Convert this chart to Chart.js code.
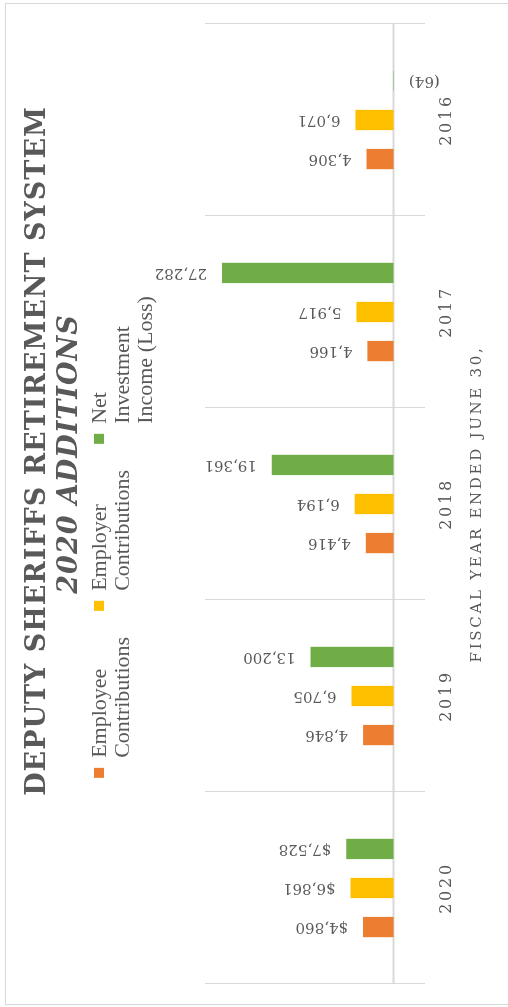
<!DOCTYPE html>
<html>
<head>
<meta charset="utf-8">
<script src="https://cdn.jsdelivr.net/npm/chart.js@4.4.1/dist/chart.umd.min.js"></script>
<style>
  html, body { margin: 0; padding: 0; background: #fff; overflow: hidden; }
  #wrap {
    position: absolute; left: 0; top: 0; width: 1007px; height: 508px;
    transform-origin: 0 0; transform: translate(0, 1007px) rotate(-90deg);
  }
</style>
</head>
<body>
<div id="wrap"><canvas id="chart" width="1007" height="508"></canvas></div>
<script>
const years = ['2020', '2019', '2018', '2017', '2016'];
const employee = [4860, 4846, 4416, 4166, 4306];
const employer = [6861, 6705, 6194, 5917, 6071];
const investment = [7528, 13200, 19361, 27282, -64];
const labelPrefix = ['$', '', '', '', ''];
const seriesNames = [
    ['Employee', 'Contributions'],
    ['Employer', 'Contributions'],
    ['Net', 'Investment', 'Income (Loss)']
];
const seriesColors = ['#ED7D31', '#FFC000', '#70AD47'];

const textGray = '#595959';

function formatValue(v, i) {
    const s = Math.abs(v).toLocaleString('en-US');
    return v < 0 ? '(' + s + ')' : labelPrefix[i] + s;
}

// extras: zero line, value labels, border, title, legend
const decor = {
    id: 'decor',
    beforeDraw(chart) {
        chart.ctx.letterSpacing = '2.7px';
    },
    beforeDatasetsDraw(chart) {
        const { ctx, chartArea } = chart;
        ctx.letterSpacing = '0px';
        const y0 = chart.scales.y.getPixelForValue(0);
        ctx.save();
        ctx.strokeStyle = '#d9d9d9';
        ctx.lineWidth = 2;
        ctx.beginPath();
        ctx.moveTo(chartArea.left, y0);
        ctx.lineTo(chartArea.right, y0);
        ctx.stroke();
        ctx.restore();
    },
    afterDatasetsDraw(chart) {
        const ctx = chart.ctx;
        ctx.save();
        ctx.font = '15px "DejaVu Serif"';
        ctx.fillStyle = textGray;
        ctx.textBaseline = 'middle';
        chart.data.datasets.forEach((ds, d) => {
            chart.getDatasetMeta(d).data.forEach((bar, i) => {
                const v = ds.data[i];
                ctx.save();
                if (v >= 0) {
                    ctx.translate(bar.x, bar.y - 15);
                    ctx.textAlign = 'left';
                } else {
                    ctx.translate(bar.x, bar.y + 15);
                    ctx.textAlign = 'right';
                }
                ctx.rotate(-Math.PI / 2);
                ctx.fillText(formatValue(v, i), 0, 0);
                ctx.restore();
            });
        });
        ctx.restore();
    },
    afterDraw(chart) {
        const ctx = chart.ctx;
        ctx.save();
        ctx.letterSpacing = '0px';

        // chart border
        ctx.strokeStyle = '#d9d9d9';
        ctx.lineWidth = 1;
        ctx.strokeRect(2.5, 5.5, 1001, 520);

        // titles
        ctx.fillStyle = textGray;
        ctx.textAlign = 'center';
        ctx.textBaseline = 'middle';
        ctx.letterSpacing = '1px';
        ctx.font = 'bold 27px "DejaVu Serif"';
        ctx.fillText('DEPUTY SHERIFFS RETIREMENT SYSTEM', 556, 38);
        ctx.font = 'italic bold 27px "DejaVu Serif"';
        ctx.fillText('2020 ADDITIONS', 553, 70);
        ctx.letterSpacing = '0px';

        // legend
        ctx.font = '22px "Liberation Serif"';
        ctx.textAlign = 'left';
        const widths = seriesNames.map(lines => Math.max(...lines.map(t => ctx.measureText(t).width)));
        const gap = 26, box = 10, boxGap = 10;
        const total = widths.reduce((a, w) => a + box + boxGap + w, 0) + gap * (widths.length - 1);
        let x = 470 - total / 2;
        seriesNames.forEach((lines, k) => {
            ctx.fillStyle = seriesColors[k];
            ctx.fillRect(x, 94, box, box);
            ctx.fillStyle = textGray;
            lines.forEach((t, j) => ctx.fillText(t, x + box + boxGap, 100 + j * 23));
            x += box + boxGap + widths[k] + gap;
        });
        ctx.restore();
    }
};

new Chart(document.getElementById('chart').getContext('2d'), {
    type: 'bar',
    data: {
        labels: years,
        datasets: [
            { label: seriesNames[0].join(' '), data: employee, backgroundColor: seriesColors[0] },
            { label: seriesNames[1].join(' '), data: employer, backgroundColor: seriesColors[1] },
            { label: seriesNames[2].join(' '), data: investment, backgroundColor: seriesColors[2] }
        ]
    },
    options: {
        responsive: false,
        animation: false,
        devicePixelRatio: 1,
        datasets: { bar: { barPercentage: 0.52, categoryPercentage: 0.61, borderWidth: 0 } },
        layout: { padding: { top: 205, left: 23, right: 24, bottom: 0 } },
        plugins: {
            legend: { display: false },
            title: { display: false },
            tooltip: { enabled: false }
        },
        scales: {
            x: {
                grid: { color: '#d9d9d9', lineWidth: 1, drawTicks: false, offset: true },
                border: { display: false },
                ticks: { color: textGray, font: { family: 'DejaVu Serif', size: 16 }, padding: 12 },
                title: {
                    display: true,
                    text: 'FISCAL YEAR ENDED JUNE 30,',
                    color: textGray,
                    font: { family: 'DejaVu Serif', size: 15 },
                    padding: { top: 0, bottom: 22 }
                },
                afterFit(scale) { scale.height = 83; }
            },
            y: { display: false, min: -5000, max: 30000 }
        }
    },
    plugins: [decor]
});
</script>
</body>
</html>
